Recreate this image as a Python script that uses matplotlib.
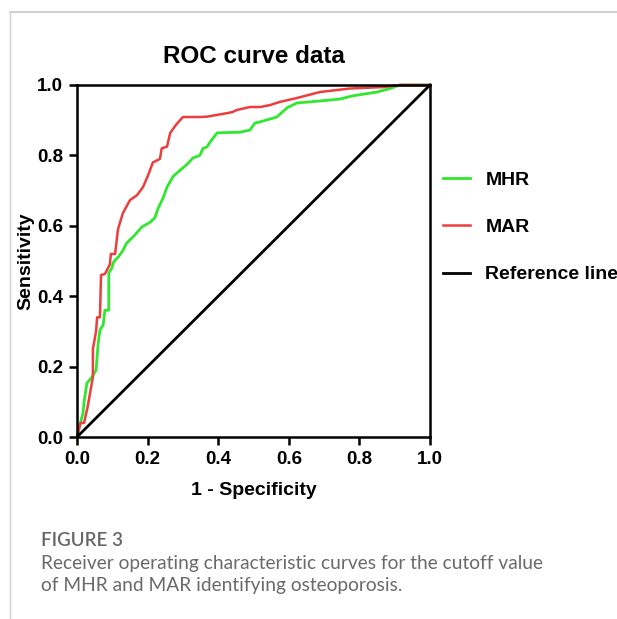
import matplotlib
matplotlib.use('Agg')
import matplotlib.pyplot as plt
from matplotlib.lines import Line2D

# ROC points (1 - specificity, sensitivity)
mhr_fpr = [0.0, 0.008, 0.017, 0.02, 0.028, 0.042, 0.054, 0.06, 0.065, 0.074, 0.079, 0.09,
           0.09, 0.099, 0.102, 0.108, 0.116, 0.13, 0.14, 0.164, 0.184, 0.207, 0.22, 0.23,
           0.244, 0.255, 0.272, 0.292, 0.31, 0.329, 0.348, 0.357, 0.368, 0.377, 0.397,
           0.462, 0.49, 0.504, 0.518, 0.566, 0.595, 0.623, 0.66, 0.745, 0.78, 0.85, 0.887,
           0.915, 1.0]
mhr_tpr = [0.0, 0.034, 0.068, 0.10, 0.153, 0.17, 0.19, 0.267, 0.304, 0.318, 0.36, 0.36,
           0.466, 0.48, 0.494, 0.503, 0.51, 0.53, 0.55, 0.574, 0.597, 0.61, 0.622, 0.65,
           0.679, 0.71, 0.74, 0.758, 0.773, 0.793, 0.80, 0.82, 0.824, 0.838, 0.864,
           0.866, 0.872, 0.892, 0.895, 0.909, 0.935, 0.949, 0.952, 0.96, 0.969, 0.98, 0.99,
           1.0, 1.0]

mar_fpr = [0.0, 0.01, 0.02, 0.03, 0.045, 0.045, 0.054, 0.057, 0.065, 0.068, 0.079, 0.093,
           0.096, 0.108, 0.116, 0.13, 0.15, 0.17, 0.187, 0.2, 0.215, 0.235, 0.24, 0.255,
           0.264, 0.283, 0.30, 0.348, 0.368, 0.425, 0.44, 0.453, 0.49, 0.52, 0.547, 0.575,
           0.623, 0.688, 0.773, 0.867, 0.915, 1.0]
mar_tpr = [0.0, 0.04, 0.04, 0.085, 0.17, 0.25, 0.30, 0.34, 0.34, 0.46, 0.463, 0.49,
           0.52, 0.52, 0.59, 0.636, 0.673, 0.687, 0.71, 0.74, 0.78, 0.79, 0.82, 0.825,
           0.864, 0.89, 0.909, 0.909, 0.91, 0.92, 0.923, 0.929, 0.9375, 0.9375, 0.943, 0.952,
           0.963, 0.98, 0.99, 0.994, 1.0, 1.0]

ref_x = [0, 1]
ref_y = [0, 1]

ticks = [0.0, 0.2, 0.4, 0.6, 0.8, 1.0]
tick_labels = ['0.0', '0.2', '0.4', '0.6', '0.8', '1.0']

caption_head = 'FIGURE 3'
caption_lines = ['Receiver operating characteristic curves for the cutoff value',
                 'of MHR and MAR identifying osteoporosis.']

plt.rcParams['font.family'] = ['Liberation Sans', 'DejaVu Sans']

fig = plt.figure(figsize=(6.17, 6.19), dpi=100)
ax = fig.add_axes([0.1248, 0.294, 0.5721, 0.5687])

ax.plot(mhr_fpr, mhr_tpr, color='#2fe82f', lw=2.0, label='MHR', clip_on=False)
ax.plot(mar_fpr, mar_tpr, color='#ee3d3d', lw=1.8, label='MAR', clip_on=False)
ax.plot(ref_x, ref_y, color='black', lw=2.0, label='Reference line', clip_on=False)

ax.set_xlim(0, 1)
ax.set_ylim(0, 1)
ax.set_xticks(ticks)
ax.set_xticklabels(tick_labels, fontweight='bold', fontsize=13.5)
ax.set_yticks(ticks)
ax.set_yticklabels(tick_labels, fontweight='bold', fontsize=13.5)
ax.tick_params(direction='out', length=6, width=1.8, pad=4)
for s in ax.spines.values():
    s.set_linewidth(1.8)

ax.set_title('ROC curve data', fontweight='bold', fontsize=17.5, pad=16)
ax.set_xlabel('1 - Specificity', fontweight='bold', fontsize=14, labelpad=10)
ax.set_ylabel('Sensitivity', fontweight='bold', fontsize=14, labelpad=2)

leg = ax.legend(loc='upper left', bbox_to_anchor=(0.718, 0.723), bbox_transform=fig.transFigure,
                frameon=False, prop={'weight': 'bold', 'size': 14}, handlelength=1.4,
                handletextpad=0.78, labelspacing=1.52, borderpad=0, borderaxespad=0)

# page frame lines
fig.add_artist(Line2D([10 / 617, 1], [1 - 12 / 619, 1 - 12 / 619], transform=fig.transFigure,
                      color='#d0d0d0', lw=1.5))
fig.add_artist(Line2D([10 / 617, 10 / 617], [0, 1 - 12 / 619], transform=fig.transFigure,
                      color='#d0d0d0', lw=1.0))

# caption
cap_font = ['Lato', 'DejaVu Sans']
fig.text(41 / 617, 1 - 540 / 619, caption_head, fontsize=13.5, color='#666666',
         family=cap_font, fontweight='semibold', va='center', ha='left')
for i, line in enumerate(caption_lines):
    fig.text(41 / 617, 1 - (563 + 23 * i) / 619, line, fontsize=13.8, color='#6a6a6a',
             family=cap_font, va='center', ha='left')

fig.savefig('out.png', dpi=100)
